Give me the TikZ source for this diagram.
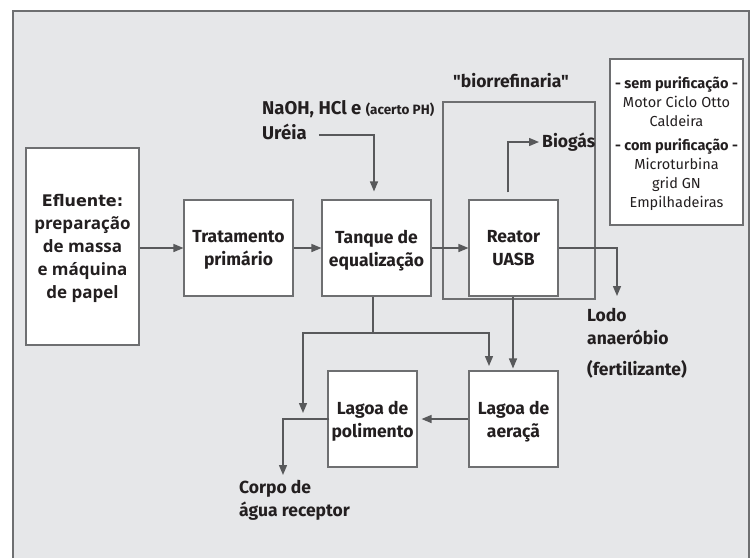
\documentclass[tikz,border=0pt]{standalone}
\usepackage{fontspec}
\setmainfont{Fira Sans}
\newfontfamily\aspasfont{Fira Sans}[Ligatures=TeXOff]
\newfontfamily\efluentefont{DejaVu Sans}
\newfontfamily\massafont{Open Sans}
\usetikzlibrary{arrows.meta, positioning}

\definecolor{fundo}{RGB}{230,231,233}
\definecolor{linha}{RGB}{88,89,91}
\definecolor{borda}{RGB}{110,111,113}
\definecolor{texto}{RGB}{35,31,32}

\begin{document}
\begin{tikzpicture}[x=1pt, y=-1pt,
  >={Triangle[length=10pt,width=8pt]},
  caixa/.style={rectangle, draw=borda, line width=1.1pt, fill=white, align=center,
                minimum width=89pt, minimum height=96pt, inner sep=0pt, text depth=-2pt,
                font=\fontsize{17.5}{23}\selectfont\bfseries, text=texto},
  fluxo/.style={->, draw=linha, line width=1.4pt},
  rotulo/.style={font=\fontsize{17.5}{23}\selectfont\bfseries, text=texto, align=left, inner sep=0pt}
]

\useasboundingbox (0,0) rectangle (752,558);

% fundo
\fill[fundo] (13,11) rectangle (749,558);
\draw[borda, line width=1.2pt] (13,558) -- (13,11) -- (749,11) -- (749,558);

% moldura "biorrefinaria"
\node[draw=borda, line width=1.1pt, minimum width=152pt, minimum height=197pt, inner sep=0pt]
  (biorref) at (519,200.5) {};
\node[rotulo, anchor=west, font=\aspasfont\fontsize{17.5}{23}\selectfont\bfseries]
  (biotitulo) at (453,81) {"biorrefinaria"};

% caixas
\node[caixa, minimum width=113pt, minimum height=197pt, text depth=-8pt,
      font=\massafont\fontsize{17}{23}\selectfont\bfseries]
  (efluente) at (82.5,246.5) {
  {\efluentefont\fontsize{16}{23}\selectfont Efluente:}\\
  preparação\\de massa\\e máquina\\de papel
};
\node[caixa, minimum width=109pt] (trat) at (238.5,248) {Tratamento\\primário};
\node[caixa, minimum width=109pt] (tanque) at (376.5,248) {Tanque de\\equalização};
\node[caixa] (uasb) at (513.5,248) {Reator\\UASB};
\node[caixa] (polim) at (372.5,419) {Lagoa de\\polimento};
\node[caixa] (aerac) at (513.5,419) {Lagoa de\\aeraçã};

% opcoes de uso do biogas
\node[caixa, minimum width=133pt, minimum height=166pt, text depth=0pt, font=\fontsize{14.5}{19}\selectfont]
  (opcoes) at (676.5,142) {
  {\bfseries - sem purificação -}\\Motor Ciclo Otto\\Caldeira\\[5pt]
  {\bfseries - com purificação -}\\Microturbina\\grid GN\\Empilhadeiras
};

% rotulos
\node[rotulo, anchor=west, font=\fontsize{18.5}{23}\selectfont\bfseries]
  (quimicos) at (262,109) {NaOH, HCl e {\fontsize{13.5}{15}\selectfont(acerto PH)}};
\node[rotulo, anchor=west, font=\fontsize{18.5}{23}\selectfont\bfseries] (ureia) at (262,132) {Uréia};
\node[rotulo, anchor=west] (biogas) at (542,142) {Biogás};
\node[rotulo, anchor=north west] (lodo) at (587,308) {Lodo\\anaeróbio\\[8pt](fertilizante)};
\node[rotulo, anchor=north west] (corpo) at (239,480) {Corpo de\\água receptor};

\coordinate (lodoseta) at (617,296);
\coordinate (divisao) at (373,333);
\coordinate (polimseta) at (303,413);
\coordinate (aeracseta) at (489,366);
\coordinate (corposeta) at (283,475);

% fluxo principal
\draw[fluxo] (trat.west -| efluente.east) -- (trat.west);
\draw[fluxo] (trat) -- (tanque);
\draw[fluxo] (tanque) -- (uasb);
\draw[fluxo, shorten >=8pt] ([xshift=12pt,yshift=-3pt]ureia.east) -| ([xshift=-2.5pt]tanque.north);

% saidas do reator
\draw[fluxo] ([xshift=-5.5pt,yshift=7pt]uasb.north) |- ([xshift=-3pt]biogas.west);
\draw[fluxo] (uasb.east) -| (lodoseta);
\draw[fluxo, shorten >=2pt] ([xshift=-0.5pt]uasb.south) -- ([xshift=-0.5pt]aerac.north);

% desvio do tanque
\draw[draw=linha, line width=1.4pt] (tanque.south -| divisao) -- (divisao);
\draw[fluxo] (divisao) -| (polimseta);
\draw[fluxo] (divisao) -| (aeracseta);

% lagoas
\draw[fluxo, shorten >=4pt] (aerac) -- (polim);
\draw[fluxo] ([xshift=2pt]polim.west) -| (corposeta);

\end{tikzpicture}
\end{document}
